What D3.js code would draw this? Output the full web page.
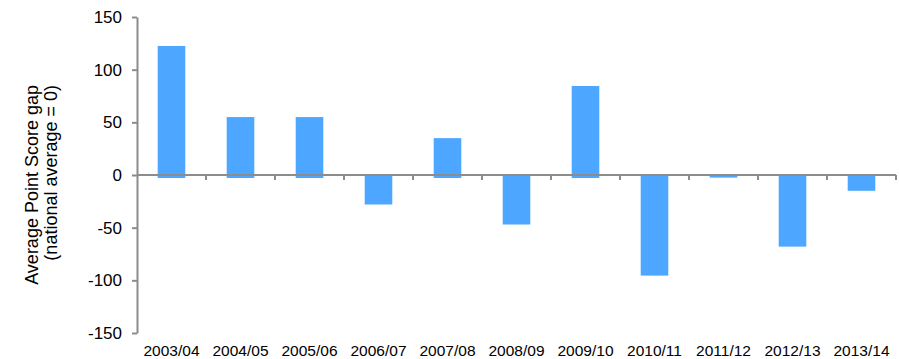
<!DOCTYPE html>
<html>
<head>
<meta charset="utf-8">
<script src="https://cdn.jsdelivr.net/npm/d3@7"></script>
<style>
  html, body { margin: 0; padding: 0; background: #fff; }
  svg { display: block; font-family: "Liberation Sans", Arial, Helvetica, sans-serif; }
</style>
</head>
<body>
<svg id="chart" width="899" height="359"></svg>
<script>
const categories = ["2003/04","2004/05","2005/06","2006/07","2007/08","2008/09","2009/10","2010/11","2011/12","2012/13","2013/14"];
const values = [122.5, 55, 55, -28, 35, -47, 84.5, -95.5, -2.5, -68, -15];
const yTicks = [-150, -100, -50, 0, 50, 100, 150];
const titleLines = ["Average Point Score gap", "(national average = 0)"];

const svg = d3.select("#chart");
const axisColor = "#8c8c8c";
const barColor = "#4DA6FF";

const x = d3.scaleBand().domain(categories).range([137, 896]).paddingInner(0.6).paddingOuter(0.3);
const y = d3.scaleLinear().domain([-150, 150]).range([333, 17]);

// bars
svg.append("g").selectAll("rect").data(values).join("rect")
  .attr("x", (d, i) => x(categories[i]))
  .attr("width", x.bandwidth())
  .attr("y", d => Math.min(y(d), y(0)))
  .attr("height", d => Math.abs(y(d) - y(0)) + (d > 0 ? 3 : 0))
  .attr("fill", barColor);

// y axis
const yAxis = svg.append("g").attr("transform", "translate(137,0)")
  .call(d3.axisLeft(y).tickValues(yTicks).tickSize(5).tickSizeOuter(0).tickPadding(10).tickFormat(d3.format("d")));
yAxis.select(".domain").attr("stroke", axisColor).attr("stroke-width", 2);
yAxis.selectAll(".tick line").attr("stroke", axisColor).attr("stroke-width", 2);
yAxis.selectAll(".tick text").attr("fill", "#000").style("font-size", "17px")
  .text(d => d < 0 ? "-" + Math.abs(d) : d);

// x axis (zero line) with ticks at band boundaries
const [x0, x1] = x.range();
const xg = svg.append("g");
xg.append("line").attr("x1", x0).attr("x2", x1).attr("y1", y(0)).attr("y2", y(0))
  .attr("stroke", axisColor).attr("stroke-width", 2);
xg.selectAll(".xt").data(d3.range(1, categories.length + 1)).join("line")
  .attr("class", "xt")
  .attr("x1", i => x0 + i * x.step()).attr("x2", i => x0 + i * x.step())
  .attr("y1", y(0)).attr("y2", y(0) + 5)
  .attr("stroke", axisColor).attr("stroke-width", 2);

// category labels
svg.append("g").selectAll("text").data(categories).join("text")
  .attr("x", d => x(d) + x.bandwidth() / 2)
  .attr("y", 356)
  .attr("text-anchor", "middle")
  .style("font-size", "15.5px")
  .attr("fill", "#000")
  .text(d => d);

// y title
const t = svg.append("g");
titleLines.forEach((line, i) => {
  t.append("text")
    .attr("transform", `translate(${38 + i * 19},85) rotate(-90)`)
    .attr("text-anchor", "end")
    .style("font-size", "18px")
    .attr("fill", "#000")
    .text(line);
});
</script>
</body>
</html>
